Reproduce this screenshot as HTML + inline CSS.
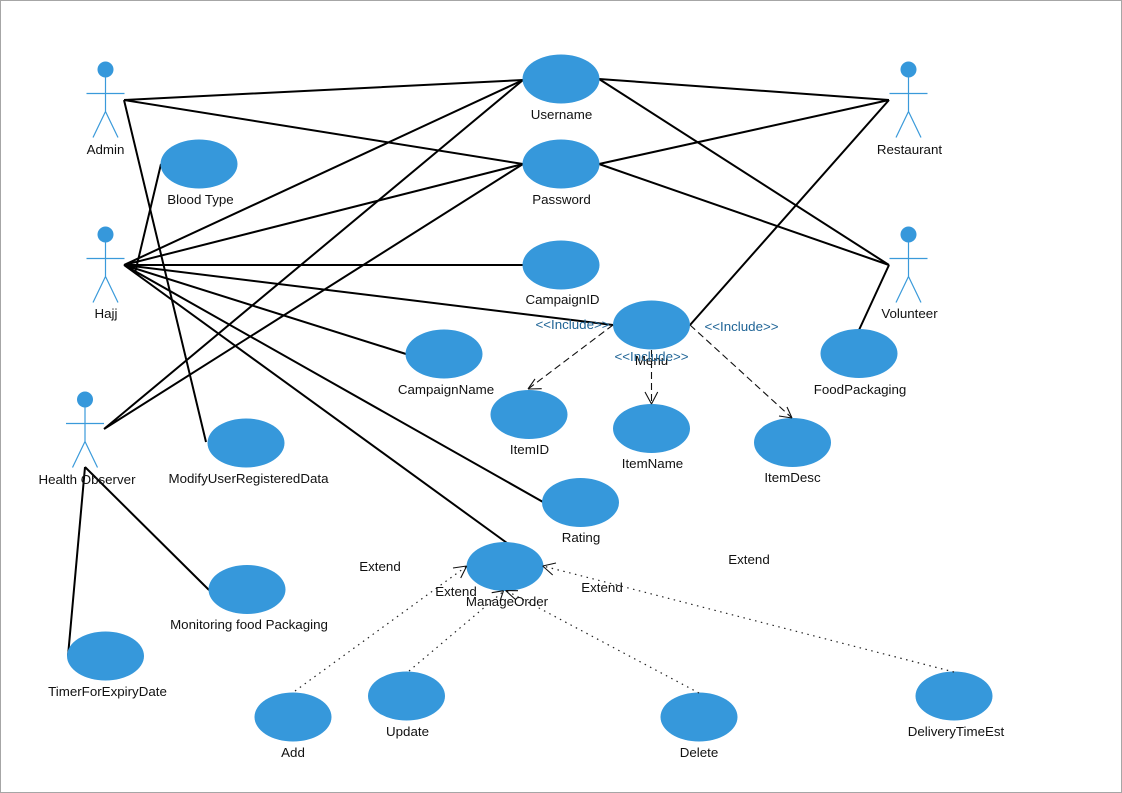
<!DOCTYPE html>
<html><head><meta charset="utf-8"><style>
html,body{margin:0;padding:0;background:#fff;width:1122px;height:793px;overflow:hidden}
svg{display:block}
text{font-family:"Liberation Sans",Arial,sans-serif;font-size:13.33px;fill:#111;text-anchor:middle}
.inc{fill:#1f6496;font-size:13.33px}
.l{stroke:#000;stroke-width:2;fill:none}
.d{stroke:#111;stroke-width:1.1;fill:none;stroke-dasharray:7 4}
.o{stroke:#222;stroke-width:1.2;fill:none;stroke-dasharray:1.5 4.5}
.a{stroke:#111;stroke-width:1.1;fill:none}
.ac{stroke:#3a9ada;stroke-width:1.2;fill:none}
ellipse,circle{fill:#3698db}
</style></head><body>
<svg width="1122" height="793" viewBox="0 0 1122 793">
<rect x="0.5" y="0.5" width="1121" height="792" fill="#fff" stroke="#a6a6a6" stroke-width="1"/>
<defs>
<g id="actor">
<circle cx="0" cy="0" r="8"/>
<path class="ac" d="M0 8V42M-19 24H19M0 42L-12.5 68M0 42L12.5 68"/>
</g>
</defs>
<use href="#actor" x="105.5" y="69.5"/>
<use href="#actor" x="105.5" y="234.5"/>
<use href="#actor" x="85" y="399.5"/>
<use href="#actor" x="908.5" y="69.5"/>
<use href="#actor" x="908.5" y="234.5"/>

<g class="l">
<path d="M124 100L523 80M124 100L523 164M124 100L206 442"/>
<path d="M124 265L523 80M124 265L523 164M124 265H523M124 265L613 325M124 265L406 354M124 265L543 502M124 265L507 543M135 273L161 164"/>
<path d="M104 429L523 80M104 429L523 164"/>
<path d="M85 467L209 590M85 467L68 656"/>
<path d="M889 100L599 79M889 100L599 164M889 100L690 325"/>
<path d="M889 265L599 79M889 265L599 164M889 265L859 330"/>
</g>

<ellipse cx="561" cy="79" rx="38.5" ry="24.5"/>
<ellipse cx="561" cy="164" rx="38.5" ry="24.5"/>
<ellipse cx="199" cy="164" rx="38.5" ry="24.5"/>
<ellipse cx="561" cy="265" rx="38.5" ry="24.5"/>
<ellipse cx="651.500" cy="325" rx="38.5" ry="24.5"/>
<ellipse cx="444" cy="354" rx="38.5" ry="24.5"/>
<ellipse cx="529" cy="414.500" rx="38.5" ry="24.5"/>
<ellipse cx="651.500" cy="428.500" rx="38.5" ry="24.5"/>
<ellipse cx="792.500" cy="442.500" rx="38.5" ry="24.5"/>
<ellipse cx="859" cy="353.500" rx="38.5" ry="24.5"/>
<ellipse cx="246" cy="443" rx="38.5" ry="24.5"/>
<ellipse cx="580.500" cy="502.500" rx="38.5" ry="24.5"/>
<ellipse cx="505" cy="566.500" rx="38.5" ry="24.5"/>
<ellipse cx="247" cy="589.500" rx="38.5" ry="24.5"/>
<ellipse cx="105.500" cy="656" rx="38.5" ry="24.5"/>
<ellipse cx="293" cy="717" rx="38.5" ry="24.5"/>
<ellipse cx="406.500" cy="696" rx="38.5" ry="24.5"/>
<ellipse cx="699" cy="717" rx="38.5" ry="24.5"/>
<ellipse cx="954" cy="696" rx="38.5" ry="24.5"/>

<path class="d" d="M613 325L528 389M651.500 350V404M690 325L792 418"/>
<path class="a" d="M528 389L535 379M528 389L541.700 388.700M651.500 404L645 392M651.500 404L657.700 392M792 418L787 407M792 418L779 416"/>
<path class="o" d="M295 691L467 566M409 671L505 590M699 693L505 590M954 672L543 566"/>
<path class="a" d="M466.700 566L453 568M466.700 566L460.700 578M503.500 590.700L491.700 592.700M503.500 590.700L500 601M505.500 590.500L518 590.700M505.500 590.500L516 600M542.700 566L556 563M542.700 566L552.700 575"/>

<text x="105.500" y="154">Admin</text>
<text x="106" y="318">Hajj</text>
<text x="87" y="484">Health Observer</text>
<text x="909.500" y="154">Restaurant</text>
<text x="909.500" y="318">Volunteer</text>
<text x="561.500" y="119">Username</text>
<text x="561.500" y="204">Password</text>
<text x="200.500" y="204">Blood Type</text>
<text x="562.500" y="304">CampaignID</text>
<text x="651.500" y="365">Menu</text>
<text x="446" y="394">CampaignName</text>
<text x="529.500" y="454">ItemID</text>
<text x="652.500" y="468">ItemName</text>
<text x="792.500" y="482">ItemDesc</text>
<text x="860" y="394">FoodPackaging</text>
<text x="248.500" y="483">ModifyUserRegisteredData</text>
<text x="581" y="542">Rating</text>
<text x="507" y="606">ManageOrder</text>
<text x="249" y="629">Monitoring food Packaging</text>
<text x="107.500" y="696">TimerForExpiryDate</text>
<text x="293" y="757">Add</text>
<text x="407.500" y="736">Update</text>
<text x="699" y="757">Delete</text>
<text x="956" y="736">DeliveryTimeEst</text>
<text class="inc" x="572.500" y="329">&lt;&lt;Include&gt;&gt;</text>
<text class="inc" x="741.500" y="331">&lt;&lt;Include&gt;&gt;</text>
<text class="inc" x="651.500" y="361">&lt;&lt;Include&gt;&gt;</text>
<text x="380" y="571">Extend</text>
<text x="456" y="596">Extend</text>
<text x="602" y="592">Extend</text>
<text x="749" y="564">Extend</text>
</svg>
</body></html>
